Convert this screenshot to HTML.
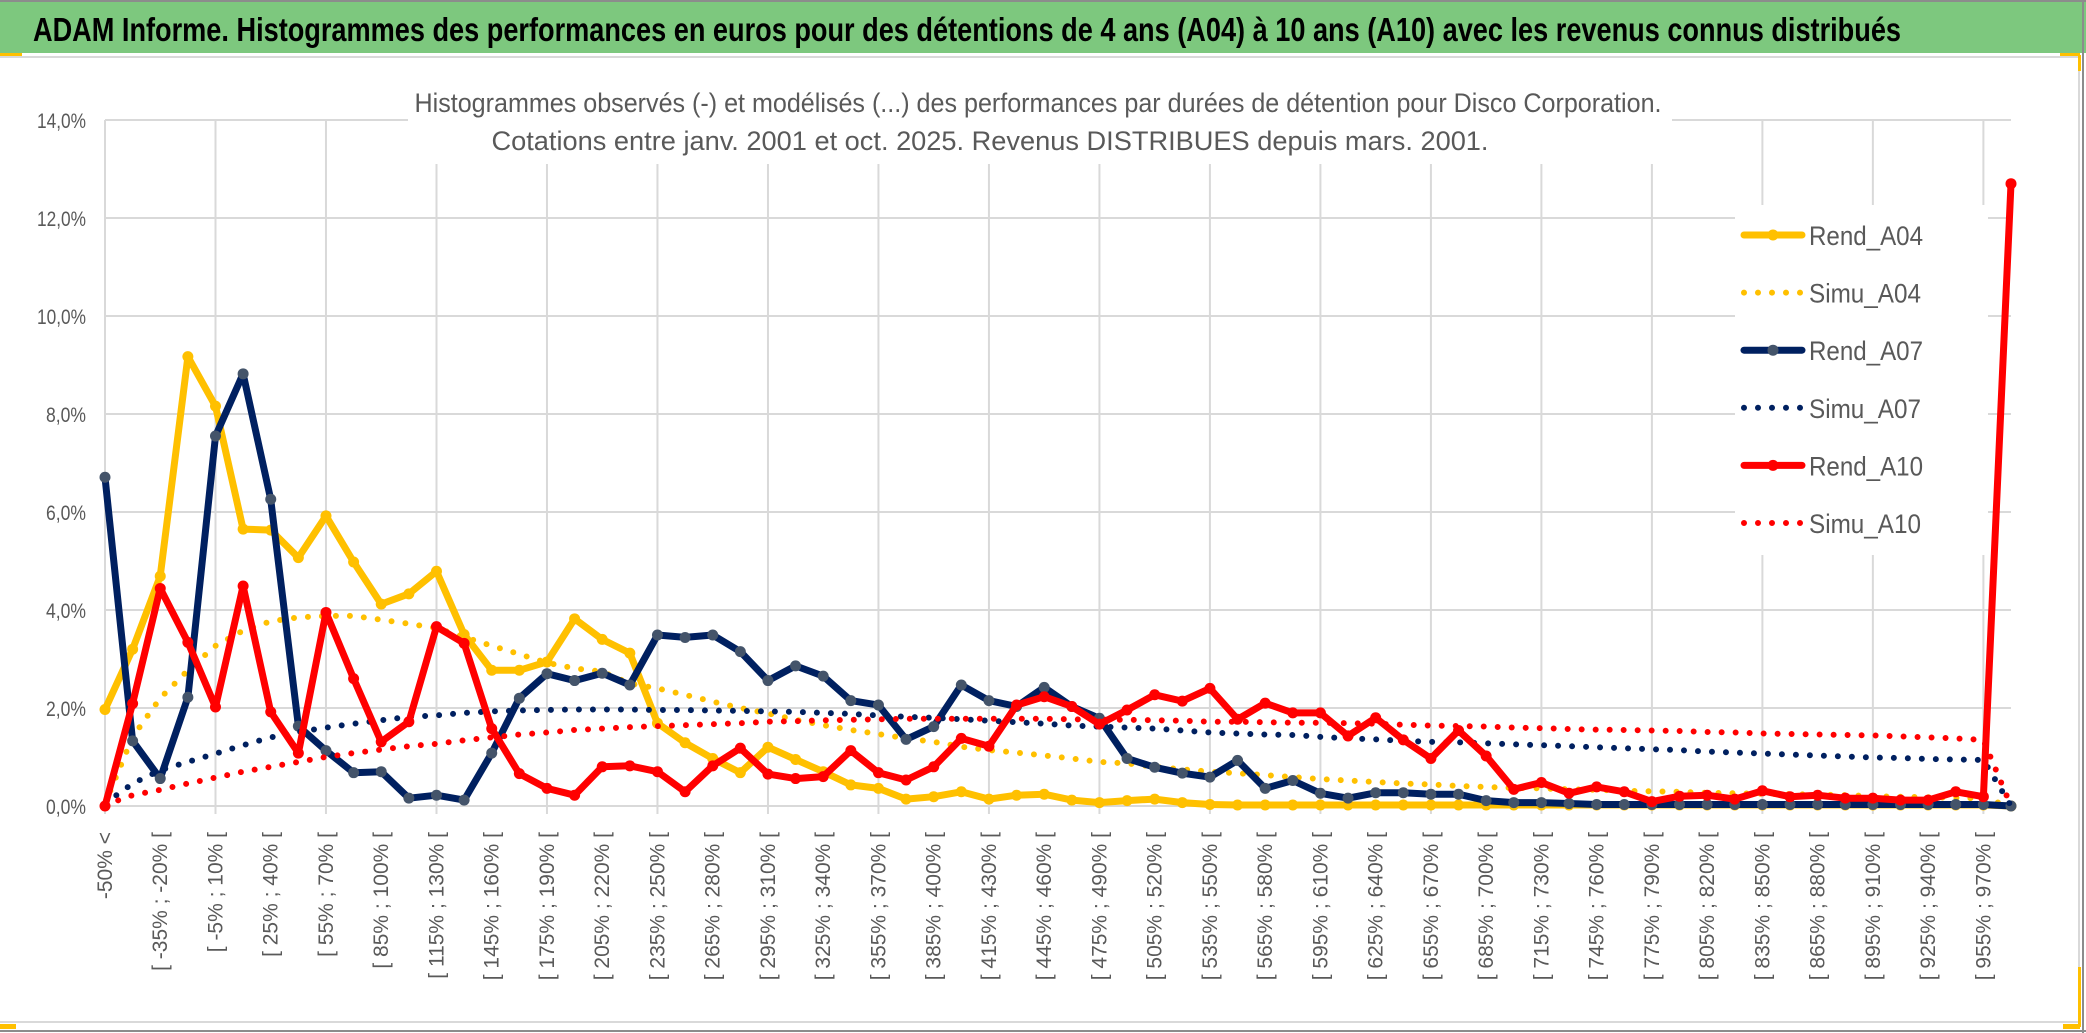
<!DOCTYPE html>
<html lang="fr">
<head>
<meta charset="utf-8">
<title>ADAM Informe - Histogrammes</title>
<style>
  html, body { margin: 0; padding: 0; background: #ffffff; }
  body { width: 2086px; height: 1033px; overflow: hidden; }
  svg { display: block; }
  text { font-family: "Liberation Sans", "DejaVu Sans", sans-serif; }
</style>
</head>
<body>
<svg id="chart" xmlns="http://www.w3.org/2000/svg" width="2086" height="1033" viewBox="0 0 2086 1033">
  <rect x="0" y="0" width="2086" height="1033" fill="#ffffff"/>
  <rect x="0" y="0" width="2086" height="53" fill="#7dc87e"/>
  <line x1="0" y1="1" x2="2086" y2="1" stroke="#8c8c8c" stroke-width="2"/>
  <rect x="0" y="53" width="22" height="3" fill="#ffc000"/>
  <rect x="2060" y="53" width="20" height="3" fill="#ffc000"/>
  <line x1="0" y1="57" x2="2078" y2="57" stroke="#d9d9d9" stroke-width="2"/>
  <text x="33" y="41" font-size="33" font-weight="bold" fill="#000000" textLength="1868" lengthAdjust="spacingAndGlyphs">ADAM Informe. Histogrammes des performances en euros pour des détentions de 4 ans (A04) à 10 ans (A10) avec les revenus connus distribués</text>
  <line x1="2079" y1="57" x2="2079" y2="1022" stroke="#d9d9d9" stroke-width="2"/>
  <line x1="0" y1="1022" x2="2079" y2="1022" stroke="#d9d9d9" stroke-width="2"/>
  <line x1="0" y1="1031" x2="2086" y2="1031" stroke="#8c8c8c" stroke-width="2"/>
  <line x1="2083" y1="0" x2="2083" y2="1033" stroke="#8c8c8c" stroke-width="2"/>
  <rect x="2078" y="55" width="3" height="16" fill="#ffc000"/>
  <rect x="2063" y="1024" width="17" height="5" fill="#ffc000"/>
  <rect x="2078" y="967" width="3" height="60" fill="#ffc000"/>
  <rect x="0" y="1024" width="16" height="5" fill="#ffc000"/>

  <g id="grid"></g>
  <g id="yaxis"></g>
  <g id="xaxis"></g>

  <rect x="408" y="60" width="1264" height="104" fill="#ffffff"/>
  <text x="1038" y="112" font-size="27" fill="#595959" text-anchor="middle" textLength="1247" lengthAdjust="spacingAndGlyphs">Histogrammes observés (-) et modélisés (...) des performances par durées de détention pour Disco Corporation.</text>
  <text x="990" y="150" font-size="27" fill="#595959" text-anchor="middle" textLength="997" lengthAdjust="spacingAndGlyphs">Cotations entre janv. 2001 et oct. 2025. Revenus DISTRIBUES depuis mars. 2001.</text>

  <g id="series"></g>

  <g id="legend">
    <rect x="1735" y="205" width="253" height="350" fill="#ffffff"/>
  </g>
</svg>

<script>
const categoryLabels = (function(){
  const out = ["-50% <"];
  for (let k = 1; k < 70; k++) {
    const a = -50 + 15 * (k - 1);
    out.push(k < 69 ? "[ " + a + "% ; " + (a + 15) + "% [" : "> 970%");
  }
  return out;
})();

const rendA04 = [1.97,3.2,4.69,9.17,8.16,5.65,5.63,5.07,5.92,4.98,4.12,4.33,4.79,3.5,2.77,2.77,2.94,3.82,3.4,3.12,
  1.69,1.29,0.97,0.68,1.2,0.95,0.7,0.43,0.36,0.14,0.19,0.29,0.14,0.22,0.24,0.12,0.07,0.11,0.14,0.07,
  0.03,0.02,0.02,0.02,0.02,0.02,0.02,0.02,0.02,0.02,0.02,0.02,0.02,0.02,0.02,0.02,0.02,0.02,0.02,0.02,
  0.02,0.02,0.02,0.02,0.02,0.02,0.02,0.02,0.02,0];
const simuA04 = [0.05,1.41,2.2,2.77,3.27,3.58,3.77,3.85,3.88,3.88,3.8,3.72,3.63,3.45,3.27,3.1,2.92,2.81,2.74,2.5,
  2.4,2.27,2.13,2.0,1.89,1.76,1.65,1.55,1.47,1.38,1.31,1.21,1.14,1.09,1.03,0.97,0.9,0.87,0.8,0.75,
  0.7,0.67,0.63,0.59,0.55,0.52,0.49,0.46,0.44,0.41,0.39,0.37,0.36,0.34,0.33,0.31,0.3,0.29,0.27,0.26,
  0.25,0.24,0.23,0.22,0.2,0.19,0.18,0.17,0.15,0];
const rendA07 = [6.71,1.33,0.56,2.22,7.55,8.82,6.26,1.63,1.13,0.68,0.7,0.16,0.22,0.12,1.08,2.2,2.7,2.56,2.71,2.47,
  3.49,3.44,3.49,3.15,2.56,2.86,2.65,2.15,2.06,1.36,1.62,2.47,2.15,2.03,2.42,2.03,1.79,0.97,0.79,0.67,
  0.59,0.93,0.36,0.52,0.26,0.16,0.27,0.27,0.24,0.24,0.11,0.07,0.07,0.05,0.03,0.03,0.03,0.03,0.03,0.03,
  0.03,0.03,0.03,0.03,0.03,0.03,0.03,0.03,0.03,0];
const simuA07 = [0.05,0.46,0.73,0.9,1.07,1.24,1.4,1.51,1.6,1.68,1.75,1.82,1.85,1.9,1.93,1.95,1.96,1.97,1.97,1.97,
  1.96,1.96,1.95,1.94,1.93,1.92,1.9,1.88,1.85,1.82,1.8,1.77,1.74,1.71,1.68,1.64,1.62,1.6,1.58,1.54,
  1.5,1.48,1.46,1.45,1.41,1.38,1.36,1.33,1.31,1.3,1.28,1.26,1.24,1.22,1.2,1.18,1.16,1.14,1.11,1.09,
  1.07,1.05,1.03,1.01,0.99,0.98,0.96,0.95,0.94,0];
const rendA10 = [0,2.09,4.44,3.34,2.02,4.49,1.92,1.08,3.95,2.6,1.31,1.72,3.66,3.32,1.58,0.66,0.36,0.22,0.8,0.82,
  0.7,0.29,0.82,1.18,0.65,0.56,0.6,1.13,0.68,0.53,0.8,1.38,1.22,2.06,2.23,2.03,1.67,1.96,2.27,2.14,
  2.4,1.77,2.1,1.9,1.9,1.43,1.8,1.35,0.97,1.54,1.02,0.34,0.48,0.26,0.39,0.29,0.09,0.2,0.22,0.14,
  0.31,0.19,0.22,0.16,0.16,0.12,0.12,0.29,0.19,12.7];
const simuA10 = [0.02,0.22,0.33,0.46,0.58,0.7,0.8,0.9,1.0,1.08,1.15,1.22,1.27,1.34,1.4,1.46,1.5,1.55,1.58,1.61,
  1.63,1.65,1.67,1.69,1.72,1.73,1.75,1.76,1.77,1.78,1.78,1.78,1.78,1.78,1.78,1.77,1.76,1.76,1.75,1.74,
  1.72,1.72,1.71,1.7,1.7,1.69,1.68,1.66,1.64,1.63,1.62,1.6,1.59,1.57,1.56,1.55,1.54,1.53,1.51,1.5,
  1.48,1.47,1.46,1.45,1.44,1.42,1.4,1.38,1.35,0];
const yTickValues = [0, 2, 4, 6, 8, 10, 12, 14];
const yTickLabels = ["0,0%", "2,0%", "4,0%", "6,0%", "8,0%", "10,0%", "12,0%", "14,0%"];
const legendLabels = ["Rend_A04", "Simu_A04", "Rend_A07", "Simu_A07", "Rend_A10", "Simu_A10"];

const NS = "http://www.w3.org/2000/svg";
const X0 = 105, X1 = 2011, Y0 = 806, YTOP = 120, YMAX = 14;
const n = categoryLabels.length;
function xPos(i) { return X0 + (X1 - X0) * i / (n - 1); }
function yPos(v) { return Y0 - (Y0 - YTOP) * v / YMAX; }
function mk(tag, attrs, parent) {
  const e = document.createElementNS(NS, tag);
  for (const k in attrs) e.setAttribute(k, attrs[k]);
  parent.appendChild(e);
  return e;
}

const grid = document.getElementById("grid");
yTickValues.forEach(function(v) {
  const l = mk("line", {x1: X0, x2: X1, y1: yPos(v), y2: yPos(v), stroke: "#d9d9d9", "stroke-width": 2}, grid);
  
  
});
for (let i = 0; i < n; i += 4) {
  const l = mk("line", {x1: xPos(i), x2: xPos(i), y1: yPos(YMAX), y2: Y0 + 8, stroke: "#d9d9d9", "stroke-width": 2}, grid);
  
  
}

const yaxis = document.getElementById("yaxis");
yTickValues.forEach(function(v, k) {
  const t = mk("text", {x: 86, y: yPos(v) + 8, "font-size": 21, fill: "#595959", "text-anchor": "end",
    textLength: yTickLabels[k].length > 4 ? 49 : 40, lengthAdjust: "spacingAndGlyphs"}, yaxis);
  t.textContent = yTickLabels[k];
  
  
});

const xaxis = document.getElementById("xaxis");
for (let i = 0; i < n - 1; i += 2) {
  const cx = xPos(i) + 7, cy = 832;
  const t = mk("text", {x: cx, y: cy, "font-size": 21, fill: "#595959", "text-anchor": "end",
    "font-family": "\"DejaVu Sans\", \"Liberation Sans\", sans-serif",
    transform: "rotate(-90 " + cx + " " + cy + ")"}, xaxis);
  t.textContent = categoryLabels[i];
  
  
}

const seriesLayer = document.getElementById("series");
function solidSeries(values, color, markerColor, name) {
  const g = mk("g", {}, seriesLayer);
  
  
  const pts = values.map(function(v, i) { return xPos(i).toFixed(1) + "," + yPos(v).toFixed(1); }).join(" ");
  const pl = mk("polyline", {points: pts, fill: "none", stroke: color, "stroke-width": 7, "stroke-linejoin": "round", "stroke-linecap": "round"}, g);
  
  
  values.forEach(function(v, i) {
    const c = mk("circle", {cx: xPos(i), cy: yPos(v), r: 5.5, fill: markerColor}, g);
    
    
  });
}
function dottedSeries(values, color, name) {
  const pts = values.map(function(v, i) { return xPos(i).toFixed(1) + "," + yPos(v).toFixed(1); }).join(" ");
  const pl = mk("polyline", {points: pts, fill: "none", stroke: color, "stroke-width": 6, "stroke-dasharray": "0 14", "stroke-linecap": "round", "stroke-linejoin": "round"}, seriesLayer);
  
  
}
solidSeries(rendA04, "#ffc000", "#ffc000", "rend-a04-series");
dottedSeries(simuA04, "#ffc000", "simu-a04-series");
solidSeries(rendA07, "#002060", "#44546a", "rend-a07-series");
dottedSeries(simuA07, "#002060", "simu-a07-series");
solidSeries(rendA10, "#ff0000", "#ff0000", "rend-a10-series");
dottedSeries(simuA10, "#ff0000", "simu-a10-series");

const legend = document.getElementById("legend");
const legendColors = ["#ffc000", "#ffc000", "#002060", "#002060", "#ff0000", "#ff0000"];
const legendMarkers = ["#ffc000", null, "#44546a", null, "#ff0000", null];
legendLabels.forEach(function(lab, k) {
  const y = 235 + k * 57.6;
  const g = mk("g", {}, legend);
  
  
  if (legendMarkers[k]) {
    mk("line", {x1: 1744, x2: 1802, y1: y, y2: y, stroke: legendColors[k], "stroke-width": 7, "stroke-linecap": "round"}, g);
    mk("circle", {cx: 1773, cy: y, r: 5.5, fill: legendMarkers[k]}, g);
  } else {
    mk("line", {x1: 1744, x2: 1802, y1: y, y2: y, stroke: legendColors[k], "stroke-width": 6, "stroke-dasharray": "0 14", "stroke-linecap": "round"}, g);
  }
  const t = mk("text", {x: 1809, y: y + 10, "font-size": 27, fill: "#595959", textLength: k % 2 === 0 ? 114 : 112, lengthAdjust: "spacingAndGlyphs"}, g);
  t.textContent = lab;
});
</script>
</body>
</html>
